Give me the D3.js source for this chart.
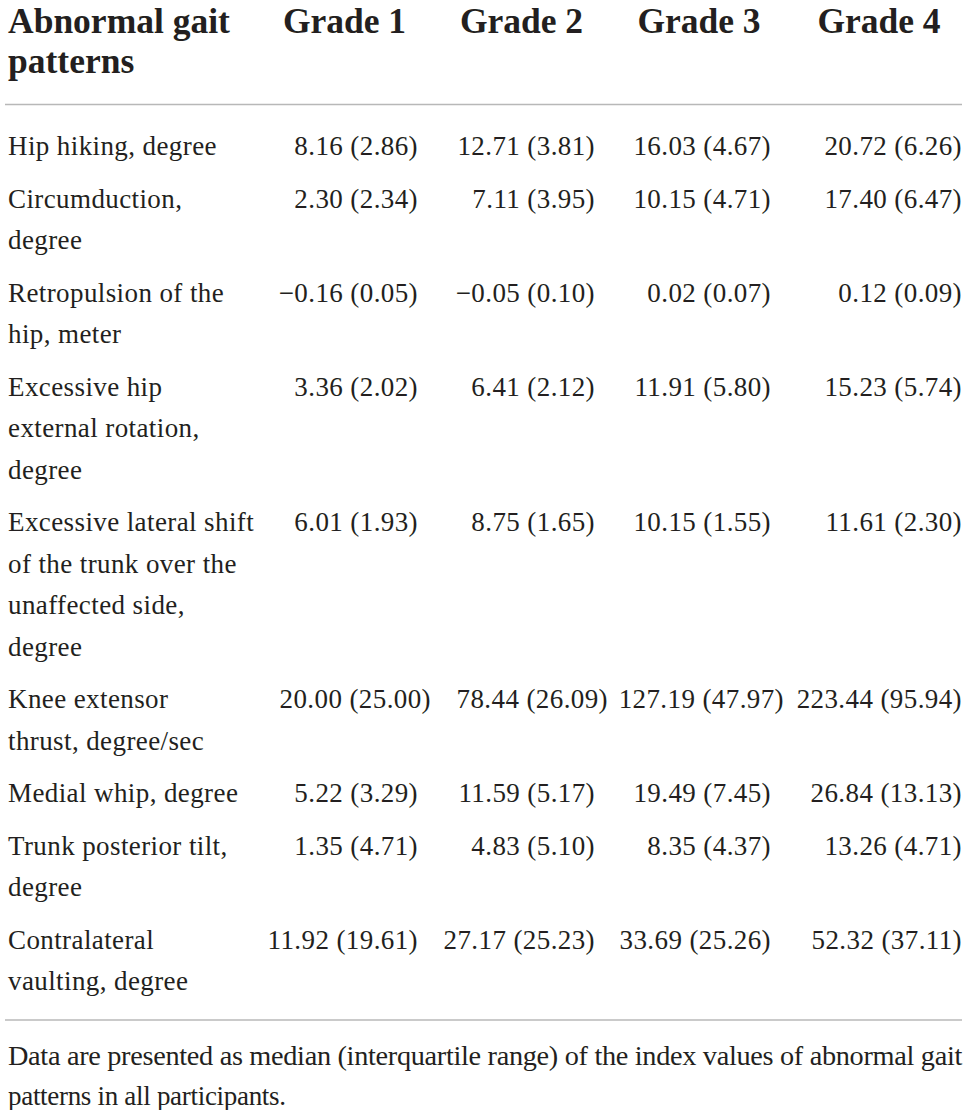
<!DOCTYPE html>
<html>
<head>
<meta charset="utf-8">
<script src="https://cdn.jsdelivr.net/npm/d3@7"></script>
<style>
  body { margin: 0; background: #fff; }
  svg text { fill: #231f20; font-family: "Liberation Serif", serif; }
  .head { font-weight: bold; font-size: 35.5px; }
  .cell { font-size: 27px; letter-spacing: 0.4px; }
  .note { font-size: 27px; letter-spacing: -0.3px; }
</style>
</head>
<body>
<div id="table"></div>
<script>
const headerLabel = ["Abnormal gait", "patterns"];
const grades = ["Grade 1", "Grade 2", "Grade 3", "Grade 4"];

// row labels, already broken into lines as in the figure
const patterns = [
  ["Hip hiking, degree"],
  ["Circumduction,", "degree"],
  ["Retropulsion of the", "hip, meter"],
  ["Excessive hip", "external rotation,", "degree"],
  ["Excessive lateral shift", "of the trunk over the", "unaffected side,", "degree"],
  ["Knee extensor", "thrust, degree/sec"],
  ["Medial whip, degree"],
  ["Trunk posterior tilt,", "degree"],
  ["Contralateral", "vaulting, degree"]
];

// median per grade
const medians = [
  [8.16, 12.71, 16.03, 20.72],
  [2.30, 7.11, 10.15, 17.40],
  [-0.16, -0.05, 0.02, 0.12],
  [3.36, 6.41, 11.91, 15.23],
  [6.01, 8.75, 10.15, 11.61],
  [20.00, 78.44, 127.19, 223.44],
  [5.22, 11.59, 19.49, 26.84],
  [1.35, 4.83, 8.35, 13.26],
  [11.92, 27.17, 33.69, 52.32]
];

// interquartile range per grade
const iqrs = [
  [2.86, 3.81, 4.67, 6.26],
  [2.34, 3.95, 4.71, 6.47],
  [0.05, 0.10, 0.07, 0.09],
  [2.02, 2.12, 5.80, 5.74],
  [1.93, 1.65, 1.55, 2.30],
  [25.00, 26.09, 47.97, 95.94],
  [3.29, 5.17, 7.45, 13.13],
  [4.71, 5.10, 4.37, 4.71],
  [19.61, 25.23, 25.26, 37.11]
];

const footnote = [
  "Data are presented as median (interquartile range) of the index values of abnormal gait",
  "patterns in all participants."
];

const width = 968, height = 1110;
const left = 8, lineLeft = 5, lineRight = 962;
const lineH = 41.5, rowGap = 52.5;

const svg = d3.select("#table").append("svg")
    .attr("width", width)
    .attr("height", height);

// column positions
const headCenter = d3.scaleOrdinal().domain(grades).range([344.5, 521.5, 699, 879]);
const valueRight = d3.scaleOrdinal().domain(grades).range([418, 595, 771, 962]);

const fmt = d3.format(".2f");
const num = v => fmt(v).replace("-", "\u2212");

// header
svg.selectAll("text.hl").data(headerLabel).join("text")
    .attr("class", "head hl")
    .attr("x", left)
    .attr("y", (d, i) => 33 + i * 39.5)
    .text(d => d);

svg.selectAll("text.hg").data(grades).join("text")
    .attr("class", "head hg")
    .attr("x", d => headCenter(d))
    .attr("y", 33)
    .attr("text-anchor", "middle")
    .text(d => d);

svg.append("line")
    .attr("x1", lineLeft).attr("x2", lineRight)
    .attr("y1", 104.5).attr("y2", 104.5)
    .attr("stroke", "#b8b8b8").attr("stroke-width", 1.6);

// baseline of each row's first line
let y = 155;
const rowY = patterns.map(lines => {
  const cur = y;
  y += (lines.length - 1) * lineH + rowGap;
  return cur;
});

const rows = svg.selectAll("g.row").data(patterns).join("g")
    .attr("class", "row")
    .attr("transform", (d, i) => `translate(0,${rowY[i]})`);

rows.selectAll("text.label").data(d => d).join("text")
    .attr("class", "cell label")
    .attr("x", left)
    .attr("y", (d, i) => i * lineH)
    .text(d => d);

rows.each(function(d, r) {
  const g = d3.select(this);
  const cells = g.selectAll("text.val").data(grades).join("text")
      .attr("class", "cell val")
      .attr("text-anchor", "end")
      .attr("x", gr => valueRight(gr))
      .attr("y", 0)
      .text((gr, c) => `${num(medians[r][c])} (${num(iqrs[r][c])})`);

  // values too wide for their column spill into the padding on the right
  const w = cells.nodes().map(n => n.getComputedTextLength());
  if (d3.max(w) > 160) {
    cells.attr("x", gr => Math.min(valueRight(gr) + 13, lineRight));
  }
});

svg.append("line")
    .attr("x1", lineLeft).attr("x2", lineRight)
    .attr("y1", 1020).attr("y2", 1020)
    .attr("stroke", "#b8b8b8").attr("stroke-width", 1.6);

svg.selectAll("text.note").data(footnote).join("text")
    .attr("class", "note")
    .attr("x", left)
    .attr("y", (d, i) => 1065 + i * 40)
    .attr("textLength", (d, i) => i === 0 ? lineRight - left : null)
    .attr("lengthAdjust", "spacingAndGlyphs")
    .text(d => d);
</script>
</body>
</html>
